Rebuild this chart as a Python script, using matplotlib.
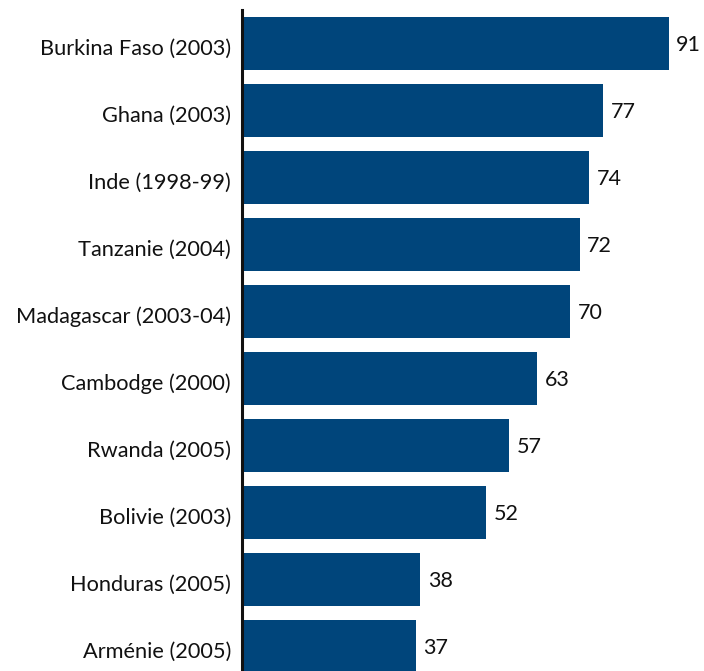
import matplotlib.pyplot as plt

countries = ['Burkina Faso (2003)', 'Ghana (2003)', 'Inde (1998-99)', 'Tanzanie (2004)',
             'Madagascar (2003-04)', 'Cambodge (2000)', 'Rwanda (2005)', 'Bolivie (2003)',
             'Honduras (2005)', 'Arménie (2005)']
values = [91, 77, 74, 72, 70, 63, 57, 52, 38, 37]

plt.rcParams['font.family'] = ['Lato', 'DejaVu Sans']

W, H = 704, 671
fig = plt.figure(figsize=(W / 100, H / 100), dpi=100)
ax = fig.add_axes([242 / W, 0, 1 - 242 / W, (H - 10) / H])

pos = list(range(len(countries)))
ax.barh(pos, values, height=0.79, color='#00457b')
for p, v in zip(pos, values):
    ax.text(v + 1.6, p + 0.03, str(v), va='center', ha='left', fontsize=15.5, color='#111111')

ax.set_xlim(0, 462 / 4.69)
ax.set_ylim(9.37, -0.5)
ax.set_yticks([p + 0.05 for p in pos])
ax.set_yticklabels(countries, fontsize=15.7, color='#111111')
ax.tick_params(axis='y', length=0, pad=8)
ax.set_xticks([])
for s in ['top', 'right', 'bottom']:
    ax.spines[s].set_visible(False)
ax.spines['left'].set_linewidth(2.2)
ax.spines['left'].set_color('#111111')

fig.savefig('out.png', dpi=100)
